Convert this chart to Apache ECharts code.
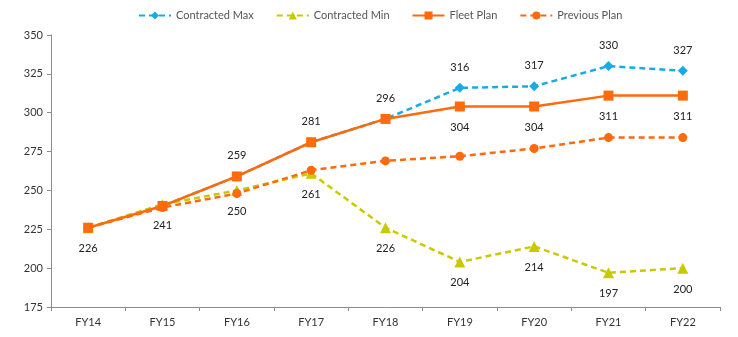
<!DOCTYPE html>
<html>
<head>
<meta charset="utf-8">
<script src="https://cdn.jsdelivr.net/npm/echarts@6/dist/echarts.min.js"></script>
<style>
  html, body { margin: 0; padding: 0; background: #fff; }
  #chart { width: 738px; height: 337px; }
</style>
</head>
<body>
<div id="chart"></div>
<script>
// Fleet size by fiscal year
const categories = ['FY14', 'FY15', 'FY16', 'FY17', 'FY18', 'FY19', 'FY20', 'FY21', 'FY22'];
const contractedMax = [226, 240, 259, 281, 296, 316, 317, 330, 327];
const contractedMin = [226, 241, 250, 261, 226, 204, 214, 197, 200];
const fleetPlan = [226, 240, 259, 281, 296, 304, 304, 311, 311];
const previousPlan = [226, 239, 248, 263, 269, 272, 277, 284, 284];
const yTicks = { min: 175, max: 350, step: 25 };

const FONT = 'Lato, "DejaVu Sans", sans-serif';
const BLUE = '#19ABE6';
const LIME = '#C9C900';
const ORANGE = '#FF6A0D';

const labelStyle = { fontFamily: FONT, fontSize: 11, color: '#222' };

// which points carry a value label, and on which side
function withLabels(values, rule) {
  return values.map((v, i) => {
    const pos = rule(i);
    if (!pos) return { value: v, label: { show: false } };
    return { value: v, label: Object.assign({ show: true, position: pos, distance: 10 }, labelStyle) };
  });
}

const chart = echarts.init(document.getElementById('chart'), null, { renderer: 'canvas' });
chart.setOption({
  animation: false,
  textStyle: { fontFamily: FONT },
  legend: {
    top: 5,
    left: 133,
    itemWidth: 32,
    itemHeight: 10,
    itemGap: 22,
    textStyle: { fontFamily: FONT, fontSize: 11, color: '#555' },
    data: ['Contracted Max', 'Contracted Min', 'Fleet Plan', 'Previous Plan']
  },
  grid: { left: 51, right: 18, top: 35, bottom: 30 },
  xAxis: {
    type: 'category',
    data: categories,
    boundaryGap: true,
    axisLine: { lineStyle: { color: '#8c8c8c', width: 1 } },
    axisTick: { show: true, length: 4, lineStyle: { color: '#8c8c8c' } },
    axisLabel: { fontFamily: FONT, fontSize: 11, color: '#333', margin: 10 }
  },
  yAxis: {
    type: 'value',
    min: yTicks.min,
    max: yTicks.max,
    interval: yTicks.step,
    axisLine: { show: true, lineStyle: { color: '#8c8c8c', width: 1 } },
    axisTick: { show: true, length: 4, lineStyle: { color: '#8c8c8c' } },
    splitLine: { show: false },
    axisLabel: { fontFamily: FONT, fontSize: 11, color: '#333', margin: 8 }
  },
  series: [
    {
      name: 'Contracted Max',
      type: 'line',
      data: withLabels(contractedMax, i => (i >= 5 ? 'top' : null)),
      symbol: 'diamond',
      symbolSize: 10,
      itemStyle: { color: BLUE },
      lineStyle: { color: BLUE, width: 2.5, type: [6, 4] },
      z: 2
    },
    {
      name: 'Contracted Min',
      type: 'line',
      data: withLabels(contractedMin, () => 'bottom'),
      symbol: 'triangle',
      symbolSize: 11,
      itemStyle: { color: LIME },
      lineStyle: { color: LIME, width: 2.5, type: [6, 4] },
      z: 3
    },
    {
      name: 'Previous Plan',
      type: 'line',
      data: withLabels(previousPlan, () => null),
      symbol: 'circle',
      symbolSize: 9,
      itemStyle: { color: ORANGE },
      lineStyle: { color: ORANGE, width: 2.5, type: [6, 4] },
      z: 4
    },
    {
      name: 'Fleet Plan',
      type: 'line',
      data: withLabels(fleetPlan, i => (i >= 2 && i <= 4 ? 'top' : (i >= 5 ? 'bottom' : null))),
      symbol: 'rect',
      symbolSize: 10,
      itemStyle: { color: ORANGE },
      lineStyle: { color: ORANGE, width: 2.5 },
      z: 5
    }
  ]
});
</script>
</body>
</html>
